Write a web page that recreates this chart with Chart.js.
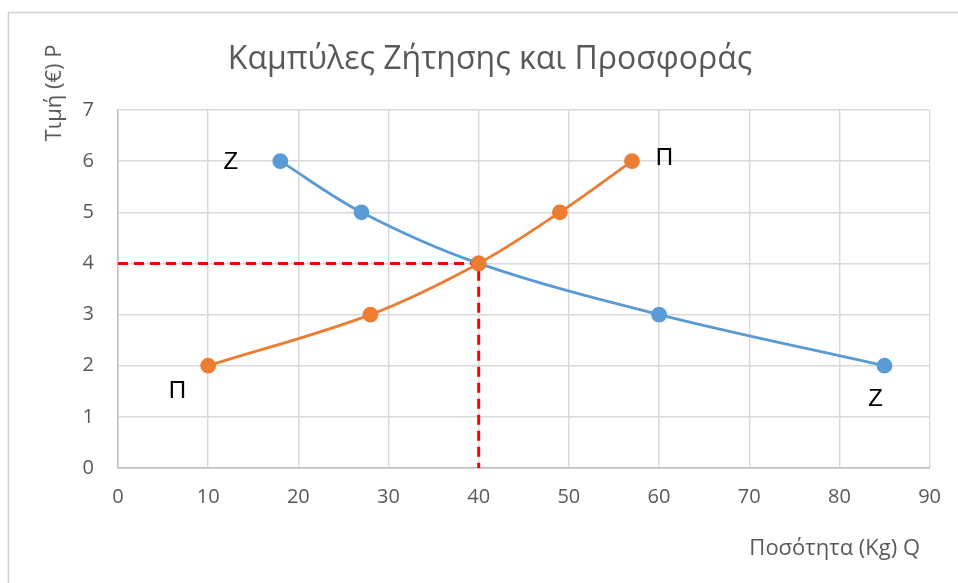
<!DOCTYPE html>
<html>
<head>
<meta charset="utf-8">
<script src="https://cdn.jsdelivr.net/npm/chart.js@4/dist/chart.umd.min.js"></script>
<style>
  body { margin: 0; background: #fff; }
  #wrap { position: relative; width: 958px; height: 583px; }
</style>
</head>
<body>
<div id="wrap"><canvas id="chart" width="958" height="583"></canvas></div>
<script>
// Ζήτηση (Z) και Προσφορά (Π)
const demandQ = [18, 27, 40, 60, 85];
const demandP = [6, 5, 4, 3, 2];
const supplyQ = [10, 28, 40, 49, 57];
const supplyP = [2, 3, 4, 5, 6];
// σημείο ισορροπίας
const eqQ = 40;
const eqP = 4;
// ετικέτες καμπυλών
const curveLabels = [
  { text: "Z", x: 12.5, y: 5.97 },
  { text: "Π", x: 6.6, y: 1.5 },
  { text: "Π", x: 60.6, y: 6.05 },
  { text: "Z", x: 84, y: 1.35 }
];
const xTicks = [0, 10, 20, 30, 40, 50, 60, 70, 80, 90];
const yTicks = [0, 1, 2, 3, 4, 5, 6, 7];

const toPoints = (xs, ys) => xs.map((x, i) => ({ x, y: ys[i] }));

const textColor = "#595959";
const fontFamily = "'Open Sans', 'Noto Sans', sans-serif";

const decorPlugin = {
  id: "decor",
  beforeDraw(chart) {
    const ctx = chart.ctx;
    ctx.save();
    // πλαίσιο
    ctx.strokeStyle = "#d0d0d0";
    ctx.lineWidth = 1.5;
    ctx.beginPath();
    ctx.moveTo(8.5, 583);
    ctx.lineTo(8.5, 12.5);
    ctx.lineTo(958, 12.5);
    ctx.stroke();
    ctx.restore();
  },
  afterDraw(chart) {
    const ctx = chart.ctx;
    const xs = chart.scales.x, ys = chart.scales.y;
    ctx.save();
    ctx.fillStyle = textColor;
    ctx.textAlign = "center";
    ctx.textBaseline = "middle";
    ctx.font = "32px " + fontFamily;
    ctx.fillText("Καμπύλες Ζήτησης και Προσφοράς", 490, 60);

    ctx.font = "22px " + fontFamily;
    ctx.save();
    ctx.translate(55, 93);
    ctx.rotate(-Math.PI / 2);
    ctx.fillText("Τιμή (€) P", 0, 0);
    ctx.restore();

    ctx.textAlign = "right";
    ctx.fillText("Ποσότητα (Kg) Q", 920, 549);

    ctx.fillStyle = "#000";
    ctx.textAlign = "center";
    ctx.font = "24px 'Liberation Sans', Arial, sans-serif";
    curveLabels.forEach(l => {
      ctx.fillText(l.text, xs.getPixelForValue(l.x), ys.getPixelForValue(l.y));
    });
    ctx.restore();
  }
};

new Chart(document.getElementById("chart"), {
  type: "scatter",
  data: {
    datasets: [
      {
        label: "Z",
        data: toPoints(demandQ, demandP),
        showLine: true,
        tension: 0.35,
        borderColor: "#5b9bd5",
        backgroundColor: "#5b9bd5",
        borderWidth: 2.8,
        pointRadius: 6.5,
        pointHoverRadius: 6.5,
        order: 2
      },
      {
        label: "Π",
        data: toPoints(supplyQ, supplyP),
        showLine: true,
        tension: 0.35,
        borderColor: "#ed7d31",
        backgroundColor: "#ed7d31",
        borderWidth: 2.8,
        pointRadius: 6.5,
        pointHoverRadius: 6.5,
        order: 1
      },
      {
        label: "eq",
        data: [{ x: 0, y: eqP }, { x: eqQ, y: eqP }, { x: eqQ, y: 0 }],
        showLine: true,
        tension: 0,
        borderColor: "#ff0000",
        borderWidth: 3,
        borderDash: [10, 6],
        pointRadius: 0,
        order: 3
      }
    ]
  },
  options: {
    responsive: false,
    animation: false,
    layout: { padding: { top: 110, right: 28, bottom: 0, left: 0 } },
    plugins: {
      legend: { display: false },
      title: { display: false },
      tooltip: { enabled: false }
    },
    scales: {
      x: {
        type: "linear",
        min: 0,
        max: 90,
        afterBuildTicks: s => { s.ticks = xTicks.map(v => ({ value: v })); },
        afterFit: s => { s.height = 115; },
        grid: { color: "#d9d9d9", lineWidth: 1.4, drawTicks: false },
        border: { color: "#bfbfbf", width: 1.5 },
        ticks: { color: textColor, font: { family: fontFamily, size: 20 }, padding: 17 }
      },
      y: {
        type: "linear",
        min: 0,
        max: 7,
        afterBuildTicks: s => { s.ticks = yTicks.map(v => ({ value: v })); },
        afterFit: s => { s.width = 118; },
        grid: { color: "#d9d9d9", lineWidth: 1.4, drawTicks: false },
        border: { color: "#bfbfbf", width: 1.5 },
        ticks: { color: textColor, font: { family: fontFamily, size: 20 }, padding: 24 }
      }
    }
  },
  plugins: [decorPlugin]
});
</script>
</body>
</html>
